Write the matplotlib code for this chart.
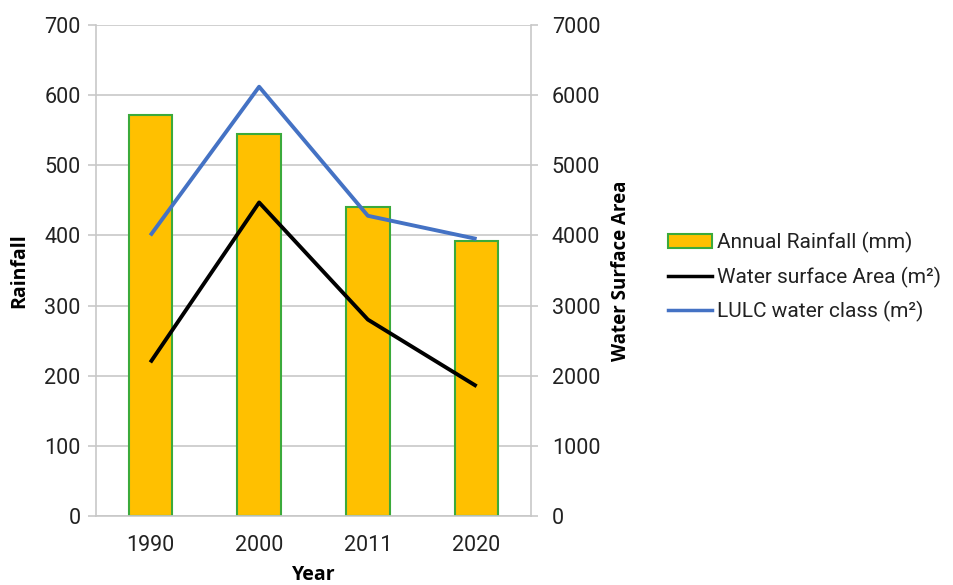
import matplotlib
matplotlib.use("Agg")
import matplotlib.pyplot as plt
from matplotlib.patches import Patch
from matplotlib.lines import Line2D

years = ["1990", "2000", "2011", "2020"]
rainfall = [572, 544, 441, 392]
water_surface = [2190, 4470, 2800, 1850]
lulc_water = [4000, 6120, 4280, 3950]

plt.rcParams["font.family"] = ["Roboto", "DejaVu Sans"]

fig = plt.figure(figsize=(9.54, 5.85), dpi=100)
fig.patch.set_facecolor("white")
ax = fig.add_axes([96 / 954, 1 - 516 / 585, 435 / 954, 491 / 585])
ax2 = ax.twinx()

grid_c = "#c8c8c8"
text_c = "#222222"
bold_font = ["Open Sans", "DejaVu Sans"]
x = list(range(len(years)))

ax.bar(x, rainfall, width=0.4, color="#FFC000", edgecolor="#3BAA3B", linewidth=1.5, zorder=2)
ax2.plot(x, water_surface, color="black", linewidth=2.8, solid_capstyle="butt", zorder=3)
ax2.plot(x, lulc_water, color="#4472C4", linewidth=2.8, solid_capstyle="butt", zorder=3)

ax.set_xlim(-0.5, 3.5)
ax.set_ylim(0, 700)
ax2.set_ylim(0, 7000)
ax.set_yticks(range(0, 701, 100))
ax2.set_yticks(range(0, 7001, 1000))
ax.set_xticks(x)
ax.set_xticklabels(years)

ax.yaxis.grid(True, color=grid_c, linewidth=1.2, zorder=0)
ax.set_axisbelow(True)

for a in (ax, ax2):
    for s in a.spines.values():
        s.set_visible(False)
for a, side in ((ax, "bottom"), (ax, "left"), (ax2, "right")):
    a.spines[side].set_visible(True)
    a.spines[side].set_color(grid_c)
    a.spines[side].set_linewidth(1.2)

ax.tick_params(axis="y", length=6, color=grid_c, width=1.2, labelsize=15.5,
               labelcolor=text_c, pad=5)
ax.tick_params(axis="x", length=0, labelsize=15.5, labelcolor=text_c, pad=14)
ax2.tick_params(axis="y", direction="out", length=5, color=grid_c, width=1.2,
                labelsize=15.5, labelcolor=text_c, pad=10)

ax.set_ylabel("Rainfall", family=bold_font, fontweight="bold", fontsize=14, labelpad=11)
ax2.set_ylabel("Water Surface Area", family=bold_font, fontweight="bold", fontsize=13.5, labelpad=8)
ax.set_xlabel("Year", family=bold_font, fontweight="bold", fontsize=14, labelpad=6)

handles = [
    Patch(facecolor="#FFC000", edgecolor="#3BAA3B", linewidth=1.5),
    Line2D([0], [0], color="black", linewidth=2.5),
    Line2D([0], [0], color="#4472C4", linewidth=2.5),
]
labels = ["Annual Rainfall (mm)", "Water surface Area (m²)", "LULC water class (m²)"]
fig.legend(handles, labels, loc="center left", bbox_to_anchor=(649 / 954, 1 - 277 / 585),
           frameon=False, fontsize=15, handlelength=2.1, handletextpad=0.25,
           labelspacing=0.65, labelcolor=text_c)

fig.savefig("out.png", dpi=100, facecolor="white")
